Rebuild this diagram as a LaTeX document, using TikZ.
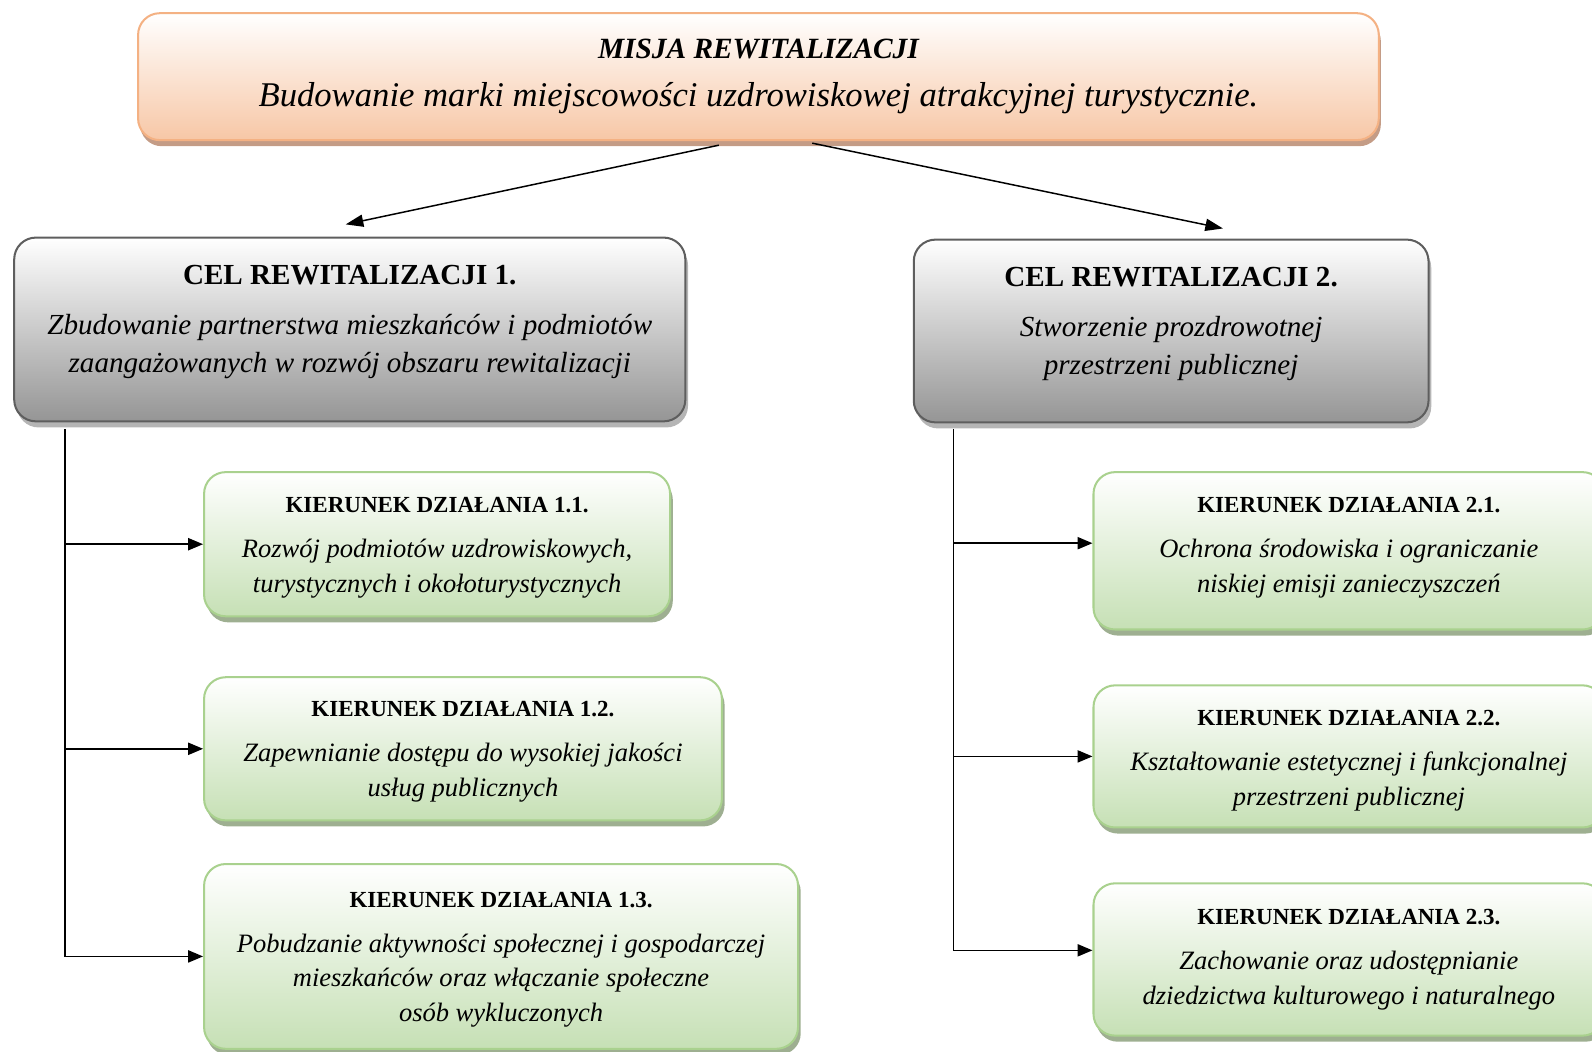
\documentclass[tikz,border=0pt]{standalone}
\usepackage{fontspec}
\setmainfont{Liberation Serif}
\usetikzlibrary{arrows.meta,calc,shadows,shapes.misc}
\definecolor{peachline}{HTML}{F4B183}
\definecolor{peachfill}{HTML}{F7C7A6}
\definecolor{peachshadow}{HTML}{C49C86}
\definecolor{grayline}{HTML}{5E5E5E}
\definecolor{grayfill}{HTML}{959595}
\definecolor{grayshadow}{HTML}{B5B5B5}
\definecolor{greenline}{HTML}{A9D18E}
\definecolor{greenfill}{HTML}{C6E0B5}
\definecolor{greenshadow}{HTML}{9EAF91}
\tikzset{
  basebox/.style={rectangle, rounded corners=16pt, line width=1.5pt, inner sep=0pt},
  peachbox/.style={basebox, draw=peachline, top color=white, bottom color=peachfill,
    drop shadow={shadow xshift=1.5pt, shadow yshift=-4.5pt, fill=peachshadow, opacity=1}},
  graybox/.style={basebox, draw=grayline, top color=white, bottom color=grayfill,
    drop shadow={shadow xshift=2pt, shadow yshift=-4.5pt, fill=grayshadow, opacity=1}},
  greenbox/.style={basebox, draw=greenline, top color=white, bottom color=greenfill,
    drop shadow={shadow xshift=2pt, shadow yshift=-4.5pt, fill=greenshadow, opacity=1}},
  txt/.style={align=center, inner sep=0pt},
  conn/.style={line width=1.1pt, draw=black},
  arr/.style={conn, -{Triangle[length=11pt,width=9pt]}},
  celfont/.style={txt, font=\fontsize{21.5pt}{28.5pt}\selectfont},
  kierfont/.style={txt, font=\fontsize{19.6pt}{25.5pt}\selectfont}
}
\newcommand{\kt}[1]{{\fontsize{17pt}{21pt}\selectfont\bfseries #1}\\[7.8pt]}
\newcommand{\ct}[1]{\textbf{#1}\\[8.5pt]}
\begin{document}
\begin{tikzpicture}[x=0.75pt,y=-0.75pt]
\useasboundingbox (0,0) rectangle (1568,1035.2);
% boxes
\node[peachbox, minimum width=916.5pt, minimum height=93.75pt] (mis) at (747,75.5) {};
\node[graybox, minimum width=495.75pt, minimum height=135.75pt] (cel1) at (344.5,324.5) {};
\node[graybox, minimum width=380.25pt, minimum height=135pt] (cel2) at (1153.5,326) {};
\node[greenbox, minimum width=344.25pt, minimum height=106.5pt] (k11) at (430.5,536) {};
\node[greenbox, minimum width=382.5pt, minimum height=105.75pt] (k12) at (456,737.5) {};
\node[greenbox, minimum width=438.75pt, minimum height=136.5pt] (k13) at (493.5,942) {};
\node[greenbox, minimum width=377.25pt, minimum height=116.25pt] (k21) at (1328.5,542.5) {};
\node[greenbox, minimum width=377.25pt, minimum height=105pt] (k22) at (1328.5,745) {};
\node[greenbox, minimum width=377.25pt, minimum height=112.5pt] (k23) at (1328.5,945) {};
% texts
\node[txt] (mist) at ($(mis.center)+(0,0)$)
 {{\fontsize{21.7pt}{26pt}\selectfont\bfseries\itshape MISJA REWITALIZACJI}\\[16.8pt]
  {\fontsize{25.6pt}{30pt}\selectfont\itshape Budowanie marki miejscowości uzdrowiskowej atrakcyjnej turystycznie.}};
\node[celfont] (cel1t) at ($(cel1.center)+(0,-7.5)$)
 {\ct{CEL REWITALIZACJI 1.}
  \textit{Zbudowanie partnerstwa mieszkańców i podmiotów}\\
  \textit{zaangażowanych w rozwój obszaru rewitalizacji}};
\node[celfont] (cel2t) at ($(cel2.center)+(0,-7)$)
 {\ct{CEL REWITALIZACJI 2.}
  \textit{Stworzenie prozdrowotnej}\\
  \textit{przestrzeni publicznej}};
\node[kierfont] (k11t) at ($(k11.center)+(0,3.5)$)
 {\kt{KIERUNEK DZIAŁANIA 1.1.}
  \textit{Rozwój podmiotów uzdrowiskowych,}\\
  \textit{turystycznych i okołoturystycznych}};
\node[kierfont] (k12t) at ($(k12.center)+(0,3)$)
 {\kt{KIERUNEK DZIAŁANIA 1.2.}
  \textit{Zapewnianie dostępu do wysokiej jakości}\\
  \textit{usług publicznych}};
\node[kierfont] (k13t) at ($(k13.center)+(0,3)$)
 {\kt{KIERUNEK DZIAŁANIA 1.3.}
  \textit{Pobudzanie aktywności społecznej i gospodarczej}\\
  \textit{mieszkańców oraz włączanie społeczne}\\
  \textit{osób wykluczonych}};
\node[kierfont] (k21t) at ($(k21.center)+(0,-3)$)
 {\kt{KIERUNEK DZIAŁANIA 2.1.}
  \textit{Ochrona środowiska i ograniczanie}\\
  \textit{niskiej emisji zanieczyszczeń}};
\node[kierfont] (k22t) at ($(k22.center)+(0,4)$)
 {\kt{KIERUNEK DZIAŁANIA 2.2.}
  \textit{Kształtowanie estetycznej i funkcjonalnej}\\
  \textit{przestrzeni publicznej}};
\node[kierfont] (k23t) at ($(k23.center)+(0,0)$)
 {\kt{KIERUNEK DZIAŁANIA 2.3.}
  \textit{Zachowanie oraz udostępnianie}\\
  \textit{dziedzictwa kulturowego i naturalnego}};
% arrows from mission
\draw[conn, -{Triangle[length=13pt,width=9pt]}] ($(mis.south)+(-39,4)$) -- ($(cel1.north)+(-4,-12)$);
\draw[conn, -{Triangle[length=13pt,width=9pt]}] ($(mis.south)+(53,2)$) -- ($(cel2.north)+(51,-10)$);
% left trunk
\coordinate (t1) at ($(cel1.south west)+(51,7)$);
\draw[arr] (t1) |- (k13.west);
\draw[arr] (t1 |- k11.west) -- (k11.west);
\draw[arr] (t1 |- k12.west) -- (k12.west);
% right trunk
\coordinate (t2) at ($(cel2.south west)+(40,6)$);
\coordinate (e21) at ($(k21.west)+(0,-7.5)$);
\coordinate (e23) at ($(k23.west)+(0,-9)$);
\draw[arr] (t2) |- (e23);
\draw[arr] (t2 |- e21) -- (e21);
\draw[arr] (t2 |- k22.west) -- (k22.west);
\end{tikzpicture}
\end{document}
